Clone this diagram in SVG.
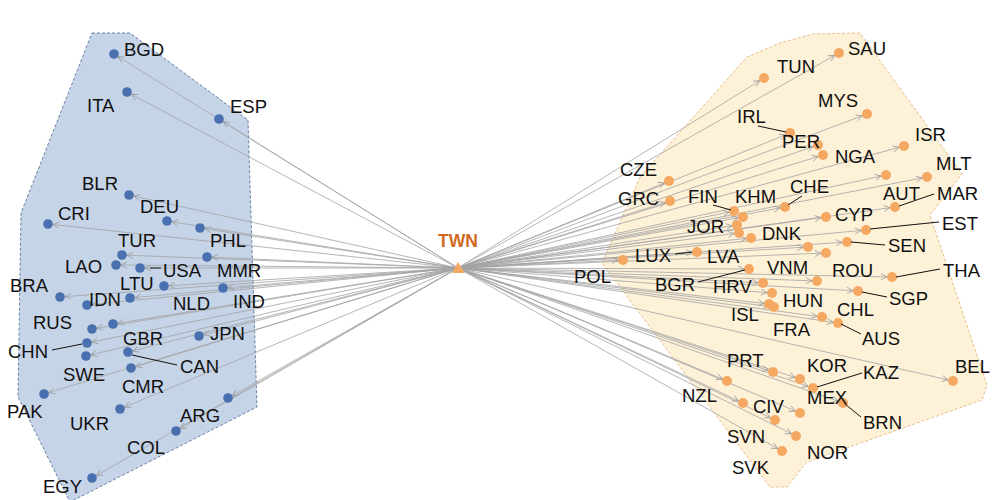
<svg xmlns="http://www.w3.org/2000/svg" width="1000" height="500" viewBox="0 0 1000 500">
<style>
.hl{fill:#c6d4e8;stroke:#4a6690;stroke-width:0.8;stroke-dasharray:3,2}
.hr{fill:#fdf1d8;stroke:#e3ae72;stroke-width:0.8;stroke-dasharray:3,2}
.e{stroke:#a3a3a3;stroke-width:0.8;fill:none;marker-end:url(#a)}
.b{fill:#4a70b0}
.o{fill:#f5a862}
text{font-family:"Liberation Sans",Arial,sans-serif;font-size:18.5px;fill:#111}
.ld{stroke:#111;stroke-width:1}
.twn{font-weight:bold;fill:#d2691e;font-size:17.5px}
</style>
<defs>
<marker id="a" markerUnits="userSpaceOnUse" markerWidth="12" markerHeight="8" refX="11" refY="3" orient="auto" overflow="visible">
<path d="M0,0 L6,3 L0,6" fill="none" stroke="#9a9a9a" stroke-width="0.8"/>
</marker>
</defs>
<rect width="1000" height="500" fill="#fff"/>
<g id="hulls">
<polygon class="hl" points="92,33 130,33 248,120 257,407 70,502 18,397 21,213"/>
<polygon class="hr" points="640,177 747,57 780,43 813,34 860,33 962,174 930,215 987,385 982,400 807,462 787,487 770,487 602,263"/>
</g>
<g id="edges">
<line class="e" x1="458" y1="268" x2="114" y2="54"/>
<line class="e" x1="458" y1="268" x2="127" y2="92"/>
<line class="e" x1="458" y1="268" x2="219" y2="119"/>
<line class="e" x1="458" y1="268" x2="129" y2="195"/>
<line class="e" x1="458" y1="268" x2="167" y2="221"/>
<line class="e" x1="458" y1="268" x2="48" y2="224"/>
<line class="e" x1="458" y1="268" x2="200" y2="228"/>
<line class="e" x1="458" y1="268" x2="122" y2="255"/>
<line class="e" x1="458" y1="268" x2="207" y2="257"/>
<line class="e" x1="458" y1="268" x2="116" y2="265"/>
<line class="e" x1="458" y1="268" x2="140" y2="268"/>
<line class="e" x1="458" y1="268" x2="164" y2="286"/>
<line class="e" x1="458" y1="268" x2="223" y2="288"/>
<line class="e" x1="458" y1="268" x2="60" y2="297"/>
<line class="e" x1="458" y1="268" x2="130" y2="298"/>
<line class="e" x1="458" y1="268" x2="87" y2="305"/>
<line class="e" x1="458" y1="268" x2="113" y2="324"/>
<line class="e" x1="458" y1="268" x2="92" y2="329"/>
<line class="e" x1="458" y1="268" x2="87" y2="343"/>
<line class="e" x1="458" y1="268" x2="86" y2="356"/>
<line class="e" x1="458" y1="268" x2="128" y2="352"/>
<line class="e" x1="458" y1="268" x2="199" y2="336"/>
<line class="e" x1="458" y1="268" x2="131" y2="368"/>
<line class="e" x1="458" y1="268" x2="44" y2="394"/>
<line class="e" x1="458" y1="268" x2="120" y2="409"/>
<line class="e" x1="458" y1="268" x2="228" y2="398"/>
<line class="e" x1="458" y1="268" x2="176" y2="431"/>
<line class="e" x1="458" y1="268" x2="92" y2="478"/>
<line class="e" x1="458" y1="268" x2="764" y2="78"/>
<line class="e" x1="458" y1="268" x2="839" y2="53"/>
<line class="e" x1="458" y1="268" x2="867" y2="114"/>
<line class="e" x1="458" y1="268" x2="790" y2="133"/>
<line class="e" x1="458" y1="268" x2="818" y2="145"/>
<line class="e" x1="458" y1="268" x2="823" y2="155"/>
<line class="e" x1="458" y1="268" x2="904" y2="146"/>
<line class="e" x1="458" y1="268" x2="886" y2="175"/>
<line class="e" x1="458" y1="268" x2="927" y2="177"/>
<line class="e" x1="458" y1="268" x2="669" y2="181"/>
<line class="e" x1="458" y1="268" x2="670" y2="201"/>
<line class="e" x1="458" y1="268" x2="785" y2="207"/>
<line class="e" x1="458" y1="268" x2="895" y2="207"/>
<line class="e" x1="458" y1="268" x2="734" y2="211"/>
<line class="e" x1="458" y1="268" x2="743" y2="217"/>
<line class="e" x1="458" y1="268" x2="826" y2="217"/>
<line class="e" x1="458" y1="268" x2="737" y2="225"/>
<line class="e" x1="458" y1="268" x2="739" y2="233"/>
<line class="e" x1="458" y1="268" x2="751" y2="238"/>
<line class="e" x1="458" y1="268" x2="866" y2="230"/>
<line class="e" x1="458" y1="268" x2="847" y2="242"/>
<line class="e" x1="458" y1="268" x2="808" y2="247"/>
<line class="e" x1="458" y1="268" x2="826" y2="253"/>
<line class="e" x1="458" y1="268" x2="697" y2="252"/>
<line class="e" x1="458" y1="268" x2="623" y2="260"/>
<line class="e" x1="458" y1="268" x2="749" y2="269"/>
<line class="e" x1="458" y1="268" x2="817" y2="281"/>
<line class="e" x1="458" y1="268" x2="892" y2="277"/>
<line class="e" x1="458" y1="268" x2="858" y2="291"/>
<line class="e" x1="458" y1="268" x2="763" y2="283"/>
<line class="e" x1="458" y1="268" x2="772" y2="293"/>
<line class="e" x1="458" y1="268" x2="769" y2="304"/>
<line class="e" x1="458" y1="268" x2="774" y2="307"/>
<line class="e" x1="458" y1="268" x2="822" y2="317"/>
<line class="e" x1="458" y1="268" x2="838" y2="323"/>
<line class="e" x1="458" y1="268" x2="773" y2="372"/>
<line class="e" x1="458" y1="268" x2="800" y2="379"/>
<line class="e" x1="458" y1="268" x2="813" y2="388"/>
<line class="e" x1="458" y1="268" x2="727" y2="381"/>
<line class="e" x1="458" y1="268" x2="843" y2="403"/>
<line class="e" x1="458" y1="268" x2="953" y2="381"/>
<line class="e" x1="458" y1="268" x2="743" y2="403"/>
<line class="e" x1="458" y1="268" x2="800" y2="413"/>
<line class="e" x1="458" y1="268" x2="775" y2="420"/>
<line class="e" x1="458" y1="268" x2="796" y2="436"/>
<line class="e" x1="458" y1="268" x2="782" y2="451"/>
</g>
<g id="n-TWN"><polygon points="458,262 452,273 465,273" fill="#f5a862"/><text class="twn" x="458" y="247" text-anchor="middle">TWN</text></g>
<g id="n-BGD"><circle class="b" cx="114" cy="54" r="4.8"/><text x="124" y="56">BGD</text></g>
<g id="n-ITA"><circle class="b" cx="127" cy="92" r="4.8"/><text x="87" y="112">ITA</text></g>
<g id="n-ESP"><circle class="b" cx="219" cy="119" r="4.8"/><text x="230" y="113">ESP</text></g>
<g id="n-BLR"><circle class="b" cx="129" cy="195" r="4.8"/><text x="82" y="190">BLR</text></g>
<g id="n-DEU"><circle class="b" cx="167" cy="221" r="4.8"/><text x="140" y="213">DEU</text></g>
<g id="n-CRI"><circle class="b" cx="48" cy="224" r="4.8"/><text x="58" y="220">CRI</text></g>
<g id="n-PHL"><circle class="b" cx="200" cy="228" r="4.8"/><text x="210" y="247">PHL</text></g>
<g id="n-TUR"><circle class="b" cx="122" cy="255" r="4.8"/><text x="118" y="247">TUR</text></g>
<g id="n-MMR"><circle class="b" cx="207" cy="257" r="4.8"/><text x="217" y="277">MMR</text></g>
<g id="n-LAO"><circle class="b" cx="116" cy="265" r="4.8"/><text x="65" y="273">LAO</text></g>
<g id="n-USA"><circle class="b" cx="140" cy="268" r="4.8"/><line class="ld" x1="150" y1="268" x2="161" y2="268"/><text x="163" y="277">USA</text></g>
<g id="n-LTU"><circle class="b" cx="164" cy="286" r="4.8"/><text x="120" y="290">LTU</text></g>
<g id="n-IND"><circle class="b" cx="223" cy="288" r="4.8"/><text x="233" y="308">IND</text></g>
<g id="n-BRA"><circle class="b" cx="60" cy="297" r="4.8"/><text x="10" y="292">BRA</text></g>
<g id="n-NLD"><circle class="b" cx="130" cy="298" r="4.8"/><text x="173" y="310">NLD</text></g>
<g id="n-IDN"><circle class="b" cx="87" cy="305" r="4.8"/><text x="89" y="306">IDN</text></g>
<g id="n-GBR"><circle class="b" cx="113" cy="324" r="4.8"/><text x="123" y="345">GBR</text></g>
<g id="n-RUS"><circle class="b" cx="92" cy="329" r="4.8"/><text x="33" y="329">RUS</text></g>
<g id="n-CHN"><circle class="b" cx="87" cy="343" r="4.8"/><line class="ld" x1="52" y1="350" x2="82" y2="344"/><text x="8" y="358">CHN</text></g>
<g id="n-SWE"><circle class="b" cx="86" cy="356" r="4.8"/><text x="63" y="381">SWE</text></g>
<g id="n-CAN"><circle class="b" cx="128" cy="352" r="4.8"/><line class="ld" x1="132" y1="355" x2="177" y2="365"/><text x="180" y="373">CAN</text></g>
<g id="n-JPN"><circle class="b" cx="199" cy="336" r="4.8"/><text x="210" y="340">JPN</text></g>
<g id="n-CMR"><circle class="b" cx="131" cy="368" r="4.8"/><text x="122" y="393">CMR</text></g>
<g id="n-PAK"><circle class="b" cx="44" cy="394" r="4.8"/><text x="7" y="418">PAK</text></g>
<g id="n-UKR"><circle class="b" cx="120" cy="409" r="4.8"/><text x="70" y="430">UKR</text></g>
<g id="n-ARG"><circle class="b" cx="228" cy="398" r="4.8"/><text x="180" y="422">ARG</text></g>
<g id="n-COL"><circle class="b" cx="176" cy="431" r="4.8"/><text x="127" y="454">COL</text></g>
<g id="n-EGY"><circle class="b" cx="92" cy="478" r="4.8"/><text x="43" y="493">EGY</text></g>
<g id="n-TUN"><circle class="o" cx="764" cy="78" r="5"/><text x="777" y="73">TUN</text></g>
<g id="n-SAU"><circle class="o" cx="839" cy="53" r="5"/><text x="848" y="55">SAU</text></g>
<g id="n-MYS"><circle class="o" cx="867" cy="114" r="5"/><text x="818" y="107">MYS</text></g>
<g id="n-IRL"><circle class="o" cx="790" cy="133" r="5"/><line class="ld" x1="758" y1="126" x2="786" y2="132"/><text x="737" y="123">IRL</text></g>
<g id="n-PER"><circle class="o" cx="818" cy="145" r="5"/><text x="782" y="148">PER</text></g>
<g id="n-NGA"><circle class="o" cx="823" cy="155" r="5"/><text x="835" y="163">NGA</text></g>
<g id="n-ISR"><circle class="o" cx="904" cy="146" r="5"/><text x="915" y="141">ISR</text></g>
<g id="n-AUT"><circle class="o" cx="886" cy="175" r="5"/><text x="883" y="200">AUT</text></g>
<g id="n-MLT"><circle class="o" cx="927" cy="177" r="5"/><text x="936" y="170">MLT</text></g>
<g id="n-CZE"><circle class="o" cx="669" cy="181" r="5"/><text x="620" y="176">CZE</text></g>
<g id="n-GRC"><circle class="o" cx="670" cy="201" r="5"/><text x="618" y="205">GRC</text></g>
<g id="n-CHE"><circle class="o" cx="785" cy="207" r="5"/><line class="ld" x1="788" y1="205" x2="802" y2="196"/><text x="790" y="193">CHE</text></g>
<g id="n-MAR"><circle class="o" cx="895" cy="207" r="5"/><line class="ld" x1="899" y1="206" x2="934" y2="194"/><text x="937" y="200">MAR</text></g>
<g id="n-FIN"><circle class="o" cx="734" cy="211" r="5"/><line class="ld" x1="713" y1="205" x2="731" y2="210"/><text x="688" y="203">FIN</text></g>
<g id="n-KHM"><circle class="o" cx="743" cy="217" r="5"/><text x="735" y="203">KHM</text></g>
<g id="n-CYP"><circle class="o" cx="826" cy="217" r="5"/><text x="835" y="221">CYP</text></g>
<g id="n-JOR"><circle class="o" cx="737" cy="225" r="5"/><text x="687" y="233">JOR</text></g>
<g id="n-LVA"><circle class="o" cx="739" cy="233" r="5"/><text x="707" y="263">LVA</text></g>
<g id="n-DNK"><circle class="o" cx="751" cy="238" r="5"/><text x="762" y="240">DNK</text></g>
<g id="n-EST"><circle class="o" cx="866" cy="230" r="5"/><line class="ld" x1="870" y1="229" x2="939" y2="222"/><text x="942" y="230">EST</text></g>
<g id="n-SEN"><circle class="o" cx="847" cy="242" r="5"/><line class="ld" x1="851" y1="242" x2="885" y2="245"/><text x="888" y="252">SEN</text></g>
<g id="n-VNM"><circle class="o" cx="808" cy="247" r="5"/><text x="767" y="274">VNM</text></g>
<g id="n-ROU"><circle class="o" cx="826" cy="253" r="5"/><text x="832" y="277">ROU</text></g>
<g id="n-LUX"><circle class="o" cx="697" cy="252" r="5"/><line class="ld" x1="675" y1="254" x2="692" y2="252"/><text x="635" y="262">LUX</text></g>
<g id="n-POL"><circle class="o" cx="623" cy="260" r="5"/><text x="574" y="283">POL</text></g>
<g id="n-BGR"><circle class="o" cx="749" cy="269" r="5"/><line class="ld" x1="698" y1="282" x2="745" y2="270"/><text x="655" y="291">BGR</text></g>
<g id="n-x1"><circle class="o" cx="817" cy="281" r="5"/></g>
<g id="n-THA"><circle class="o" cx="892" cy="277" r="5"/><line class="ld" x1="896" y1="277" x2="940" y2="269"/><text x="943" y="277">THA</text></g>
<g id="n-SGP"><circle class="o" cx="858" cy="291" r="5"/><line class="ld" x1="862" y1="292" x2="887" y2="297"/><text x="889" y="305">SGP</text></g>
<g id="n-HRV"><circle class="o" cx="763" cy="283" r="5"/><text x="713" y="293">HRV</text></g>
<g id="n-HUN"><circle class="o" cx="772" cy="293" r="5"/><text x="783" y="307">HUN</text></g>
<g id="n-ISL"><circle class="o" cx="769" cy="304" r="5"/><text x="731" y="321">ISL</text></g>
<g id="n-FRA"><circle class="o" cx="774" cy="307" r="5"/><text x="773" y="336">FRA</text></g>
<g id="n-CHL"><circle class="o" cx="822" cy="317" r="5"/><text x="837" y="316">CHL</text></g>
<g id="n-AUS"><circle class="o" cx="838" cy="323" r="5"/><line class="ld" x1="841" y1="324" x2="861" y2="334"/><text x="862" y="345">AUS</text></g>
<g id="n-PRT"><circle class="o" cx="773" cy="372" r="5"/><text x="727" y="367">PRT</text></g>
<g id="n-KOR"><circle class="o" cx="800" cy="379" r="5"/><text x="807" y="372">KOR</text></g>
<g id="n-KAZ"><circle class="o" cx="813" cy="388" r="5"/><line class="ld" x1="817" y1="387" x2="862" y2="373"/><text x="863" y="379">KAZ</text></g>
<g id="n-NZL"><circle class="o" cx="727" cy="381" r="5"/><text x="682" y="402">NZL</text></g>
<g id="n-BRN"><circle class="o" cx="843" cy="403" r="5"/><line class="ld" x1="845" y1="404" x2="861" y2="417"/><text x="863" y="429">BRN</text></g>
<g id="n-BEL"><circle class="o" cx="953" cy="381" r="5"/><text x="955" y="373">BEL</text></g>
<g id="n-CIV"><circle class="o" cx="743" cy="403" r="5"/><text x="753" y="413">CIV</text></g>
<g id="n-MEX"><circle class="o" cx="800" cy="413" r="5"/><text x="807" y="404">MEX</text></g>
<g id="n-SVN"><circle class="o" cx="775" cy="420" r="5"/><text x="727" y="443">SVN</text></g>
<g id="n-NOR"><circle class="o" cx="796" cy="436" r="5"/><text x="807" y="459">NOR</text></g>
<g id="n-SVK"><circle class="o" cx="782" cy="451" r="5"/><text x="732" y="474">SVK</text></g>
</svg>
